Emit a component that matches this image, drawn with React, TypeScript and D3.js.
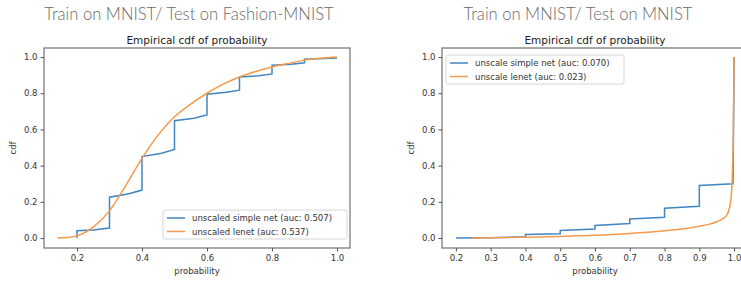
import React, { useEffect, useRef } from "react";
import * as d3 from "d3";

// left panel: train MNIST / test Fashion-MNIST
const fashionSimpleX = [0.2, 0.2, 0.25, 0.3, 0.3, 0.36, 0.4, 0.4, 0.46, 0.5, 0.5, 0.56, 0.6, 0.6, 0.66, 0.7, 0.7, 0.76, 0.8, 0.8, 0.86, 0.9, 0.9, 1.0];
const fashionSimpleY = [0.0, 0.04, 0.045, 0.055, 0.226, 0.245, 0.265, 0.45, 0.468, 0.49, 0.648, 0.662, 0.68, 0.795, 0.805, 0.817, 0.89, 0.897, 0.907, 0.955, 0.96, 0.968, 0.988, 0.995];
const fashionLenetX = [0.14, 0.17, 0.2, 0.25, 0.3, 0.35, 0.4, 0.45, 0.5, 0.55, 0.6, 0.65, 0.7, 0.75, 0.8, 0.85, 0.9, 0.95, 1.0];
const fashionLenetY = [0.0, 0.003, 0.012, 0.06, 0.15, 0.29, 0.44, 0.57, 0.67, 0.74, 0.8, 0.85, 0.89, 0.92, 0.945, 0.965, 0.983, 0.993, 1.0];

// right panel: train MNIST / test MNIST
const mnistSimpleX = [0.2, 0.3, 0.4, 0.4, 0.5, 0.5, 0.6, 0.6, 0.7, 0.7, 0.8, 0.8, 0.9, 0.9, 0.997, 1.0];
const mnistSimpleY = [0.0, 0.002, 0.007, 0.02, 0.024, 0.042, 0.05, 0.07, 0.08, 0.105, 0.115, 0.165, 0.175, 0.29, 0.30, 1.0];
const mnistLenetX = [0.246, 0.3, 0.4, 0.5, 0.6, 0.7, 0.8, 0.85, 0.9, 0.93, 0.95, 0.97, 0.98, 0.99, 0.995, 0.998, 1.0];
const mnistLenetY = [0.0, 0.002, 0.005, 0.009, 0.015, 0.025, 0.04, 0.05, 0.065, 0.077, 0.09, 0.11, 0.13, 0.2, 0.35, 0.6, 1.0];

const leftXTicks = [0.2, 0.4, 0.6, 0.8, 1.0];
const rightXTicks = [0.2, 0.3, 0.4, 0.5, 0.6, 0.7, 0.8, 0.9, 1.0];
const yTicks = [0.0, 0.2, 0.4, 0.6, 0.8, 1.0];

const BLUE = "#4186c0";
const ORANGE = "#f59a4d";
const FONT = "DejaVu Sans, sans-serif";

type Panel = {
  heading: string;
  headingX: number;
  left: number;
  right: number;
  xDomain: [number, number];
  xTicks: number[];
  series: { xs: number[]; ys: number[]; color: string; label: string; smooth: boolean }[];
  legend: { x: number; y: number; w: number };
};

const panels: Panel[] = [
  {
    heading: "Train on MNIST/ Test on Fashion-MNIST",
    headingX: 189,
    left: 44,
    right: 350,
    xDomain: [0.0985, 1.04],
    xTicks: leftXTicks,
    series: [
      { xs: fashionSimpleX, ys: fashionSimpleY, color: BLUE, label: "unscaled simple net (auc: 0.507)", smooth: false },
      { xs: fashionLenetX, ys: fashionLenetY, color: ORANGE, label: "unscaled lenet (auc: 0.537)", smooth: true },
    ],
    legend: { x: 163, y: 210, w: 184 },
  },
  {
    heading: "Train on MNIST/ Test on MNIST",
    headingX: 578,
    left: 442,
    right: 748,
    xDomain: [0.16, 1.04],
    xTicks: rightXTicks,
    series: [
      { xs: mnistSimpleX, ys: mnistSimpleY, color: BLUE, label: "unscale simple net (auc: 0.070)", smooth: false },
      { xs: mnistLenetX, ys: mnistLenetY, color: ORANGE, label: "unscale lenet (auc: 0.023)", smooth: true },
    ],
    legend: { x: 446, y: 55, w: 178 },
  },
];

export default function App() {
  const svgRef = useRef<SVGSVGElement>(null);

  useEffect(() => {
    const width = 741;
    const height = 282;
    const svg = d3.select(svgRef.current).attr("width", width).attr("height", height);
    svg.selectAll("*").remove();

    svg.append("rect").attr("width", width).attr("height", height).attr("fill", "#fff");

    const top = 48;
    const bottom = 248;

    panels.forEach((p) => {
      const x = d3.scaleLinear().domain(p.xDomain).range([p.left, p.right]);
      const y = d3.scaleLinear().domain([-0.055, 1.05]).range([bottom, top]);
      const plotMid = (p.left + p.right) / 2;

      // slide heading
      svg.append("text")
        .attr("x", p.headingX)
        .attr("y", 20)
        .attr("text-anchor", "middle")
        .style("font-family", "Lato, sans-serif")
        .style("font-weight", 300)
        .style("font-size", "16.6px")
        .style("fill", "#6a6a6a")
        .text(p.heading);

      // chart title
      svg.append("text")
        .attr("x", plotMid)
        .attr("y", 44)
        .attr("text-anchor", "middle")
        .style("font-family", FONT)
        .style("font-size", "10.5px")
        .style("fill", "#222")
        .text("Empirical cdf of probability");

      const clipId = `clip-${p.left}`;
      svg.append("clipPath").attr("id", clipId)
        .append("rect")
        .attr("x", p.left)
        .attr("y", top - 3)
        .attr("width", p.right - p.left)
        .attr("height", bottom - top + 3);

      // axes
      const xAxis = svg.append("g")
        .attr("transform", `translate(0,${bottom})`)
        .call(d3.axisBottom(x).tickValues(p.xTicks).tickFormat(d3.format(".1f")).tickSize(3.5).tickPadding(3));
      const yAxis = svg.append("g")
        .attr("transform", `translate(${p.left},0)`)
        .call(d3.axisLeft(y).tickValues(yTicks).tickFormat(d3.format(".1f")).tickSize(3.5).tickPadding(3));
      [xAxis, yAxis].forEach((a) => {
        a.select(".domain").remove();
        a.selectAll("line").attr("stroke", "#555");
        a.selectAll("text").style("font-family", FONT).style("font-size", "8.5px").style("fill", "#333");
      });

      // data lines
      p.series.forEach((s) => {
        const line = d3.line<[number, number]>()
          .x((d) => x(d[0]))
          .y((d) => y(d[1]))
          .curve(s.smooth ? d3.curveMonotoneX : d3.curveLinear);
        const pts = s.xs.map((v, i) => [v, s.ys[i]] as [number, number]);
        svg.append("path")
          .attr("d", line(pts))
          .attr("clip-path", `url(#${clipId})`)
          .attr("fill", "none")
          .attr("stroke", s.color)
          .attr("stroke-width", 1.5);
      });

      // frame
      svg.append("rect")
        .attr("x", p.left)
        .attr("y", top)
        .attr("width", p.right - p.left)
        .attr("height", bottom - top)
        .attr("fill", "none")
        .attr("stroke", "#555")
        .attr("stroke-width", 1);

      // axis labels
      svg.append("text")
        .attr("x", plotMid)
        .attr("y", 274)
        .attr("text-anchor", "middle")
        .style("font-family", FONT)
        .style("font-size", "8.5px")
        .style("fill", "#333")
        .text("probability");
      svg.append("text")
        .attr("transform", `translate(${p.left - 28},${(top + bottom) / 2}) rotate(-90)`)
        .attr("text-anchor", "middle")
        .style("font-family", FONT)
        .style("font-size", "8.5px")
        .style("fill", "#333")
        .text("cdf");

      // legend
      const lg = svg.append("g").attr("transform", `translate(${p.legend.x},${p.legend.y})`);
      lg.append("rect")
        .attr("width", p.legend.w)
        .attr("height", 29)
        .attr("rx", 2)
        .attr("fill", "rgba(255,255,255,0.85)")
        .attr("stroke", "#d6d6d6");
      p.series.forEach((s, i) => {
        const ly = 8 + i * 13.5;
        lg.append("line")
          .attr("x1", 4).attr("x2", 22)
          .attr("y1", ly).attr("y2", ly)
          .attr("stroke", s.color)
          .attr("stroke-width", 1.5);
        lg.append("text")
          .attr("x", 29)
          .attr("y", ly + 3)
          .style("font-family", FONT)
          .style("font-size", "8.5px")
          .style("fill", "#333")
          .text(s.label);
      });
    });
  }, []);

  return (
    <svg ref={svgRef} style={{ position: "absolute", left: 0, top: 0 }} />
  );
}
